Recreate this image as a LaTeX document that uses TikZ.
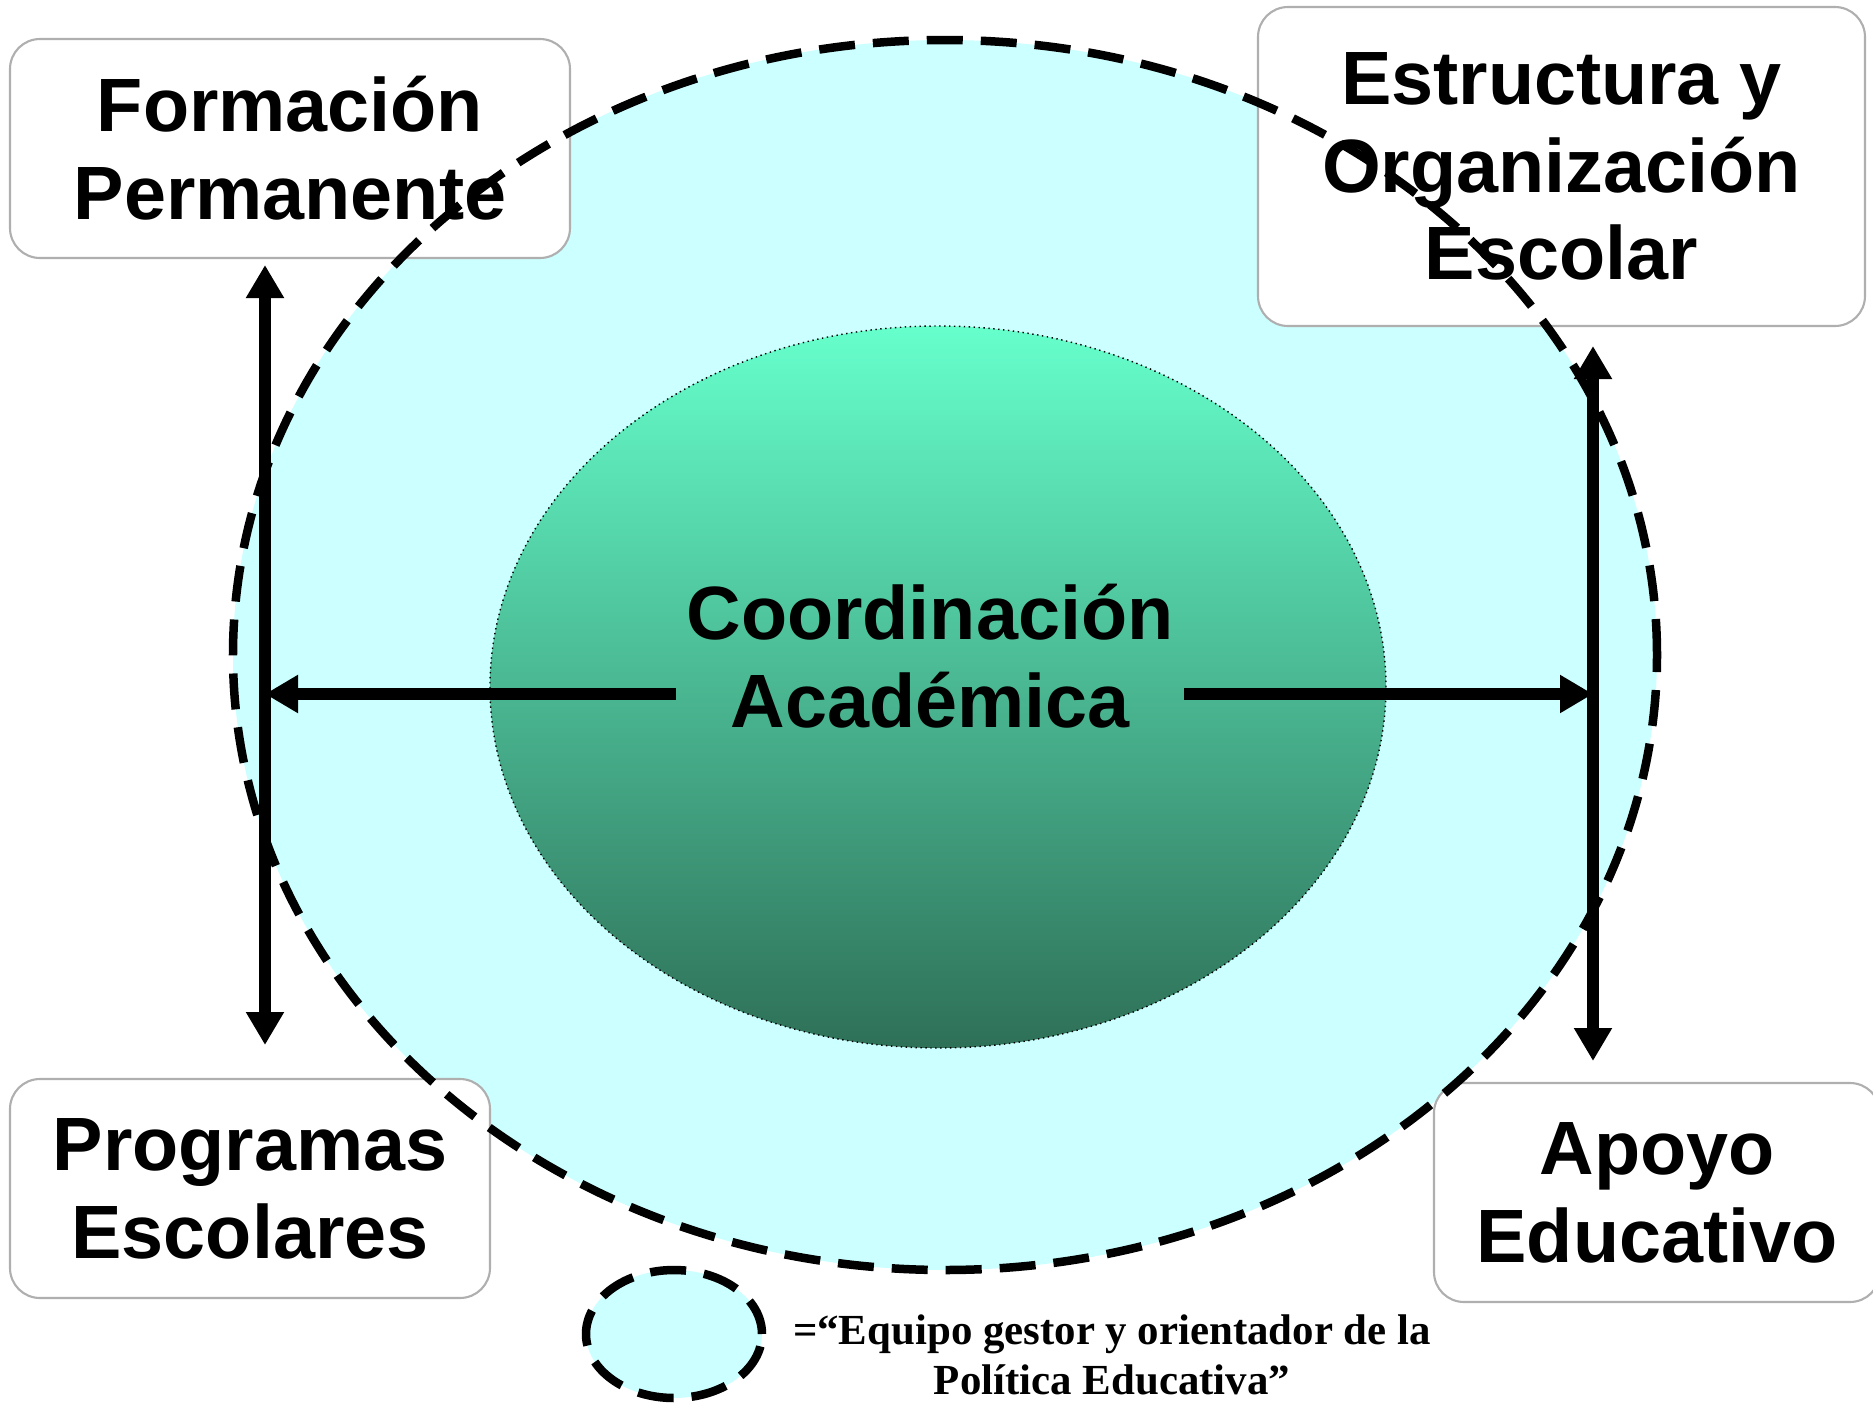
\documentclass[tikz,border=0pt]{standalone}
\usepackage{fontspec}
\setmainfont{Liberation Sans}
\newfontfamily\legendfont{Liberation Serif}
\usepackage{tikz}
\usetikzlibrary{arrows.meta}
\definecolor{equipocyan}{RGB}{204,255,255}
\definecolor{coordtop}{RGB}{102,255,204}
\definecolor{coordbottom}{RGB}{46,112,88}
\definecolor{boxgray}{RGB}{175,175,175}
\tikzset{>={Triangle[length=3.3mm,width=3.6mm]}}

\begin{document}
\begin{tikzpicture}[x=1mm, y=-1mm]
\tikzset{areabox/.style={draw=boxgray, line width=0.6pt, rounded corners=3mm, fill=white, inner sep=0pt, align=center, minimum height=21.9mm, font=\bfseries\fontsize{21.5}{25}\selectfont}}
\tikzset{bigarrow/.style={line width=1.2mm}}
\tikzset{equipo/.style={dash pattern=on 3.6mm off 1.8mm, line width=0.85mm}}
    \useasboundingbox (0,0) rectangle (187.3,140.3);

    \coordinate (Eq) at (94.5,65.5);
    \coordinate (Co) at (93.8,68.7);

    \fill[equipocyan] (Eq) ellipse [x radius=71.2mm, y radius=61.5mm];
    \shadedraw[top color=coordtop, bottom color=coordbottom, draw=black, densely dotted, line width=0.4pt] (Co) ellipse [x radius=44.8mm, y radius=36.1mm];

    \node[areabox, minimum width=56mm] (formacion) at (29.0,14.85) {Formación\\Permanente};
    \node[areabox, minimum width=60.7mm, minimum height=31.9mm] (estructura) at (156.15,16.65) {Estructura y\\Organización\\Escolar};
    \node[areabox, minimum width=48mm] (programas) at (25.0,118.85) {Programas\\Escolares};
    \node[areabox, minimum width=44.6mm] (apoyo) at (165.7,119.25) {Apoyo\\Educativo};

    \draw[equipo] (Eq) ellipse [x radius=71.2mm, y radius=61.5mm];

    \node[align=center, inner sep=1mm, font=\bfseries\fontsize{21.5}{25}\selectfont] (coord) at (93.0,65.6) {Coordinación\\Académica};
% % % % % % % % % % % % % % % % % % %
    \coordinate (Lt) at (26.5,26.5);
    \coordinate (Lb) at (26.5,104.5);
    \coordinate (Lm) at (26.5,69.4);

    \coordinate (Rt) at (159.3,34.6);
    \coordinate (Rb) at (159.3,106.1);
    \coordinate (Rm) at (159.3,69.4);

    \draw[bigarrow, <->] (Lb) -- (Lt);
    \draw[bigarrow, <->] (Rb) -- (Rt);
    \draw[bigarrow, ->] (coord.west |- Lm) -- (Lm);
    \draw[bigarrow, ->] (coord.east |- Rm) -- (Rm);
% % % % % % % % % % % % % % % % % % %
    \draw[equipo, fill=equipocyan] (67.4,133.4) ellipse [x radius=8.8mm, y radius=6.4mm];
    \node[align=center, inner sep=0pt, font=\legendfont\bfseries\fontsize{12.2}{14.4}\selectfont] (leyenda) at (111.2,135.5) {=“Equipo gestor y orientador de la\\Política Educativa”};
\end{tikzpicture}
\end{document}
